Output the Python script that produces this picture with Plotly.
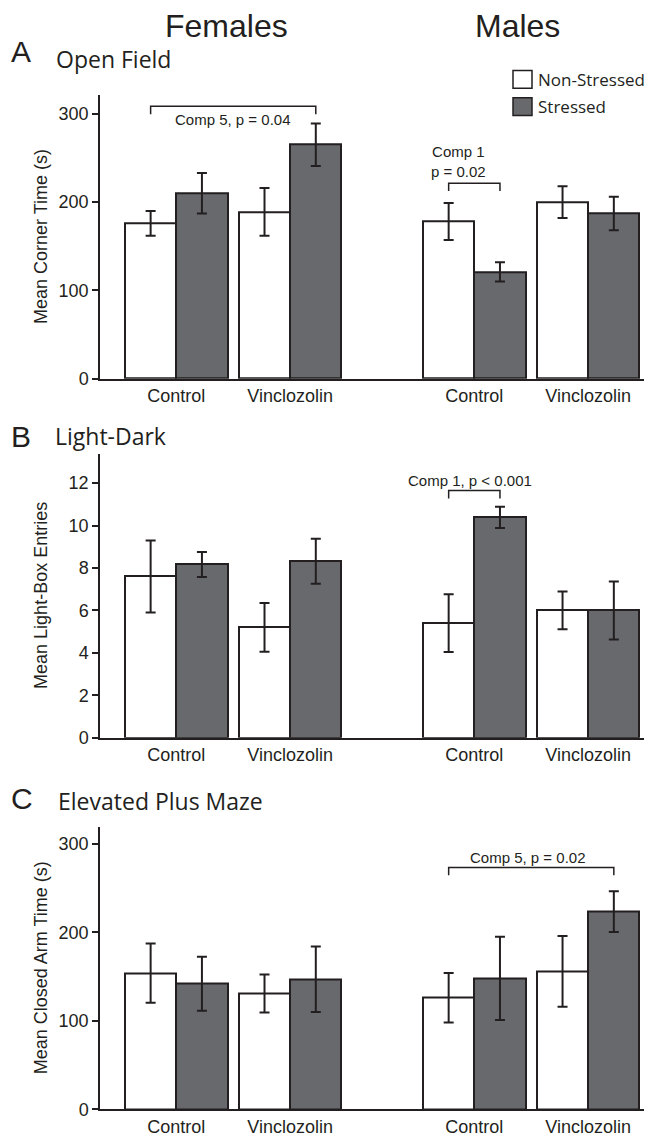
import plotly.graph_objects as go

# ---------------- DATA ----------------
sexes = ["Females", "Males"]
treatments = ["Control", "Vinclozolin"]
conditions = ["Non-Stressed", "Stressed"]
# order of groups: Female-Control, Female-Vinclozolin, Male-Control, Male-Vinclozolin
group_labels = ["Control", "Vinclozolin", "Control", "Vinclozolin"]

# Panel A: Open Field - Mean Corner Time (s)
of_ns = [176, 189, 178, 200]
of_ns_err = [14, 27, 21, 18]
of_s = [210, 265, 121, 187]
of_s_err = [23, 24, 11, 19]

# Panel B: Light-Dark - Mean Light-Box Entries
ld_ns = [7.6, 5.2, 5.4, 6.0]
ld_ns_err = [1.7, 1.15, 1.36, 0.89]
ld_s = [8.17, 8.32, 10.39, 6.0]
ld_s_err = [0.59, 1.06, 0.5, 1.37]

# Panel C: Elevated Plus Maze - Mean Closed Arm Time (s)
epm_ns = [154, 131, 126, 156]
epm_ns_err = [33.5, 21.5, 28, 40]
epm_s = [142, 147, 148, 223.5]
epm_s_err = [30.5, 37, 47, 23]

panel_letters = ["A", "B", "C"]
panel_titles = ["Open Field", "Light-Dark", "Elevated Plus Maze"]
y_titles = ["Mean Corner Time (s)", "Mean Light-Box Entries", "Mean Closed Arm Time (s)"]
y_ticks = [[0, 100, 200, 300], [0, 2, 4, 6, 8, 10, 12], [0, 100, 200, 300]]

# comparisons: (panel, group_from, cond_from, group_to, cond_to, bracket level, label)
comparisons = [
    (0, 0, 0, 1, 1, 308.5, "Comp 5, p = 0.04"),
    (1 - 1, 2, 0, 2, 1, 221.4, "Comp 1<br>p = 0.02"),
    (1, 2, 0, 2, 1, 11.65, "Comp 1, p < 0.001"),
    (2, 2, 0, 3, 1, 273.5, "Comp 5, p = 0.02"),
]

# ---------------- LAYOUT / STYLE ----------------
W, H = 652, 1136
INK = "#231f20"
GREY = "#68696c"
ARIAL = "Liberation Sans, Arial, sans-serif"
MYRIAD = "Open Sans, sans-serif"

GROUP_X = [0.0, 2.22, 5.81, 8.03]   # group centres in bar-width units
BAR_W = 1.0
X_RANGE = [-1.487, 9.43]
# panel plot-area tops/bottoms in pixels
PANEL_PX = [(88, 374), (450, 736.3), (826.7, 1111)]
Y_RANGES = [[0, 321], [0, 13.37], [0, 318.7]]
# comparison label placement: (dx in units from bracket centre, y value)
COMP_TEXT = [(0.0, 294), (-0.3, 246.3), (-0.08, 12.12), (-0.06, 284.4)]
LEG_PX = 8  # bracket leg length px


def px_x(x):
    return x / W


def px_y(y):
    return 1 - y / H


panels = [
    (of_ns, of_ns_err, of_s, of_s_err),
    (ld_ns, ld_ns_err, ld_s, ld_s_err),
    (epm_ns, epm_ns_err, epm_s, epm_s_err),
]

fig = go.Figure()
annotations = []
shapes = []

for p, (ns, ns_e, s, s_e) in enumerate(panels):
    xa = "x" if p == 0 else f"x{p + 1}"
    ya = "y" if p == 0 else f"y{p + 1}"
    xs_ns = [g - BAR_W / 2 for g in GROUP_X]
    xs_s = [g + BAR_W / 2 for g in GROUP_X]
    for xs, vals, errs, fill, name in [
        (xs_ns, ns, ns_e, "white", conditions[0]),
        (xs_s, s, s_e, GREY, conditions[1]),
    ]:
        fig.add_trace(go.Bar(
            x=xs, y=vals, width=BAR_W, name=name, showlegend=False,
            marker=dict(color=fill, line=dict(color=INK, width=2)),
            error_y=dict(type="data", array=errs, color=INK, thickness=2, width=5),
            xaxis=xa, yaxis=ya,
        ))
    top_px, bot_px = PANEL_PX[p]
    dom = [px_y(bot_px), px_y(top_px)]
    xkey = "xaxis" if p == 0 else f"xaxis{p + 1}"
    ykey = "yaxis" if p == 0 else f"yaxis{p + 1}"
    fig.update_layout(**{
        xkey: dict(domain=[px_x(92), 1.0], range=X_RANGE, anchor=ya,
                   tickvals=GROUP_X, ticktext=group_labels, ticks="",
                   showline=True, linecolor=INK, linewidth=1.5,
                   showgrid=False, zeroline=False, fixedrange=True,
                   tickfont=dict(family=ARIAL, size=18, color=INK)),
        ykey: dict(domain=dom, range=Y_RANGES[p], anchor=xa,
                   tickvals=y_ticks[p], ticks="outside", ticklen=6,
                   tickwidth=1.5, tickcolor=INK,
                   showline=True, linecolor=INK, linewidth=1.5,
                   showgrid=False, zeroline=False, fixedrange=True,
                   tickfont=dict(family=ARIAL, size=18, color=INK)),
    })
    # axis title
    annotations.append(dict(
        x=px_x(33), y=px_y((top_px + bot_px) / 2), xref="paper", yref="paper",
        text=y_titles[p], textangle=-90, showarrow=False,
        xanchor="center", yanchor="middle",
        font=dict(family=ARIAL, size=18, color=INK)))

# panel letters and titles
letter_y = [44, 432, 798]
title_y = [51.5, 432, 800]
title_x = [46, 45, 48]
for p in range(3):
    annotations.append(dict(
        x=px_x(1), y=px_y(letter_y[p]), xref="paper", yref="paper",
        text=panel_letters[p], showarrow=False, xanchor="left", yanchor="middle",
        font=dict(family=ARIAL, size=30, color=INK)))
    annotations.append(dict(
        x=px_x(title_x[p]), y=px_y(title_y[p]), xref="paper", yref="paper",
        text=panel_titles[p], showarrow=False, xanchor="left", yanchor="middle",
        font=dict(family=MYRIAD, size=23, color=INK)))

# sex headings
for name, cx in zip(sexes, [218.5, 509]):
    annotations.append(dict(
        x=px_x(cx), y=px_y(18), xref="paper", yref="paper", text=name,
        showarrow=False, xanchor="center", yanchor="middle",
        font=dict(family=ARIAL, size=32, color=INK)))

# legend
for i, (cond, fill, cy) in enumerate(zip(conditions, ["white", GREY], [72, 99.5])):
    shapes.append(dict(type="rect", xref="paper", yref="paper",
                       x0=px_x(505), x1=px_x(524), y0=px_y(cy - 9), y1=px_y(cy + 9),
                       fillcolor=fill, line=dict(color=INK, width=1.5)))
    annotations.append(dict(
        x=px_x(528), y=px_y(cy), xref="paper", yref="paper", text=cond,
        showarrow=False, xanchor="left", yanchor="middle",
        font=dict(family=MYRIAD, size=17, color=INK)))

# significance brackets
for (p, g1, c1, g2, c2, level, label), (dx, ty) in zip(comparisons, COMP_TEXT):
    xa = "x" if p == 0 else f"x{p + 1}"
    ya = "y" if p == 0 else f"y{p + 1}"
    x1 = GROUP_X[g1] + (c1 - 0.5) * BAR_W
    x2 = GROUP_X[g2] + (c2 - 0.5) * BAR_W
    top_px, bot_px = PANEL_PX[p]
    units_per_px = (Y_RANGES[p][1] - Y_RANGES[p][0]) / (bot_px - top_px)
    leg = level - LEG_PX * units_per_px
    shapes.append(dict(type="path", xref=xa, yref=ya,
                       path=f"M {x1},{leg} L {x1},{level} L {x2},{level} L {x2},{leg}",
                       line=dict(color=INK, width=1.5)))
    annotations.append(dict(
        x=(x1 + x2) / 2 + dx, y=ty, xref=xa, yref=ya, text=label,
        showarrow=False, xanchor="center", yanchor="middle",
        font=dict(family=ARIAL, size=15, color=INK)))

fig.update_layout(
    width=W, height=H, margin=dict(l=0, r=0, t=0, b=0),
    paper_bgcolor="white", plot_bgcolor="white",
    barmode="overlay", bargap=0,
    annotations=annotations, shapes=shapes,
)

fig.write_html("out.html")
